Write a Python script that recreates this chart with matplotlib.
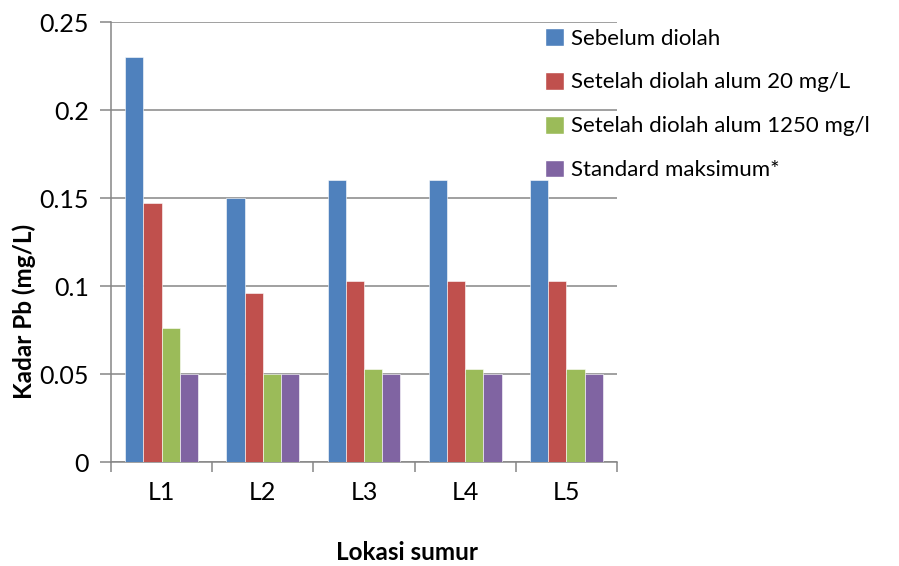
import numpy as np
import matplotlib.pyplot as plt
from matplotlib.patches import Patch

# -------- DATA --------
lokasi = ["L1", "L2", "L3", "L4", "L5"]
sebelum = [0.23, 0.15, 0.16, 0.16, 0.16]
alum_20 = [0.147, 0.096, 0.103, 0.103, 0.103]
alum_1250 = [0.076, 0.05, 0.053, 0.053, 0.053]
standard = [0.05, 0.05, 0.05, 0.05, 0.05]

series = [sebelum, alum_20, alum_1250, standard]
names = ["Sebelum diolah", "Setelah diolah alum 20 mg/L",
         "Setelah diolah alum 1250 mg/l", "Standard maksimum*"]
colors = ["#4F81BD", "#C0504D", "#9BBB59", "#8064A2"]
grid_col = "#868686"

plt.rcParams['font.family'] = ['Lato', 'DejaVu Sans']

fig = plt.figure(figsize=(8.99, 5.66), dpi=100)
ax = fig.add_axes([111/899, 1-462/566, (617-111)/899, (462-22)/566])

x = np.arange(len(lokasi))
w = 0.18
for i, (vals, c) in enumerate(zip(series, colors)):
    ax.bar(x + (i - 1.5) * w, vals, width=w, color=c, edgecolor="white",
           linewidth=0.4, zorder=3)

# -------- AXES --------
ax.set_xlim(-0.5, len(lokasi) - 0.5)
ax.set_ylim(0, 0.25)
ax.set_yticks([0, 0.05, 0.1, 0.15, 0.2, 0.25])
ax.set_yticklabels(["0", "0.05", "0.1", "0.15", "0.2", "0.25"], fontsize=18)
ax.yaxis.grid(True, color=grid_col, linewidth=1.1, zorder=0)

ax.set_xticks(x)
ax.set_xticklabels(lokasi, fontsize=18)
ax.tick_params(axis="x", length=0, pad=14)
# category boundary ticks
ax.set_xticks(np.arange(len(lokasi) + 1) - 0.5, minor=True)
ax.tick_params(axis="x", which="minor", length=7, color=grid_col, width=1.1)
ax.tick_params(axis="y", length=8, color=grid_col, width=1.1, pad=8)

for s in ["top", "right"]:
    ax.spines[s].set_visible(False)
for s in ["left", "bottom"]:
    ax.spines[s].set_color(grid_col)
    ax.spines[s].set_linewidth(1.1)

fig.text(24/899, 1-311/566, "Kadar Pb (mg/L)", fontsize=17.5, fontweight="bold",
         rotation=90, ha="center", va="center")
fig.text(407/899, 1-553/566, "Lokasi sumur", fontsize=17.5, fontweight="bold",
         ha="center", va="center")

# -------- LEGEND --------
handles = [Patch(facecolor=c, edgecolor="white") for c in colors]
fig.legend(handles, names, loc="upper left", bbox_to_anchor=(545/899, 1-28/566),
           frameon=False, fontsize=16, handlelength=0.85, handleheight=0.85,
           handletextpad=0.3, labelspacing=1.05, borderpad=0, borderaxespad=0)

fig.savefig("out.png", dpi=100)
